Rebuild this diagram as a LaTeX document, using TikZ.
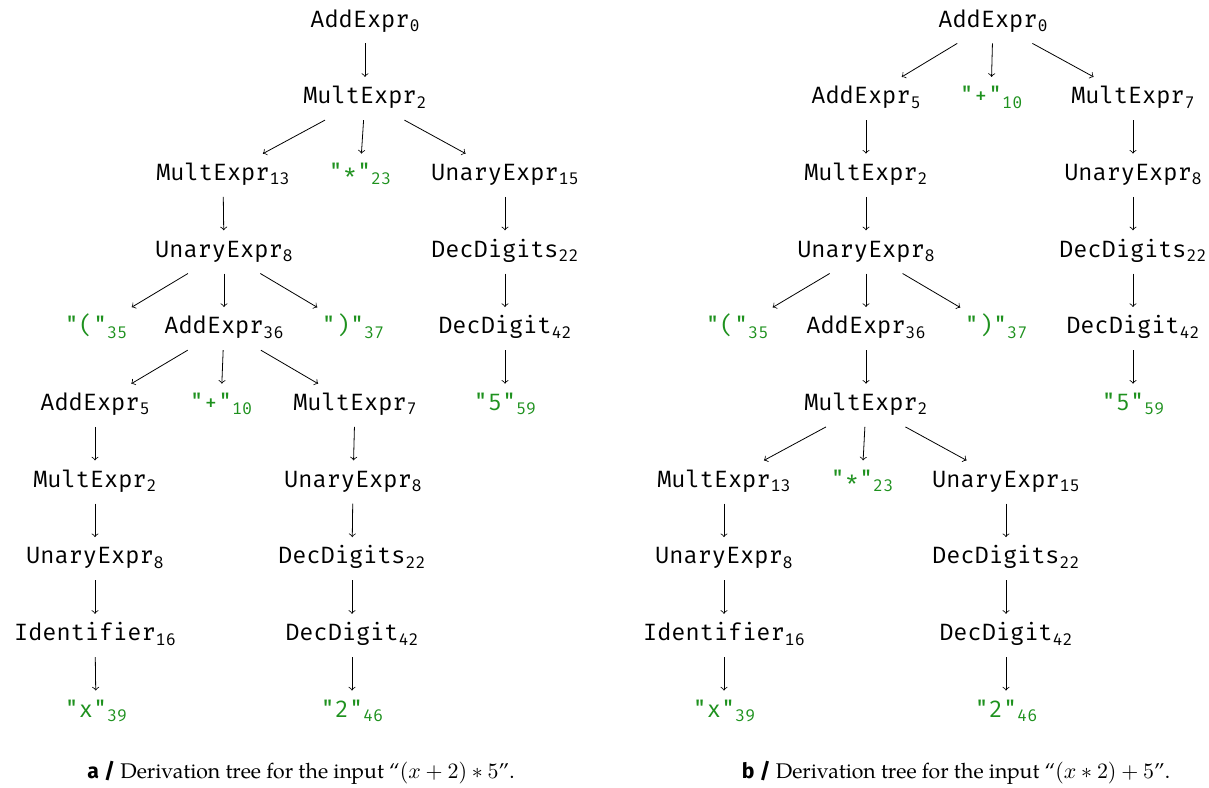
\documentclass[tikz,border=0pt]{standalone}
\usepackage{fontspec}
\setmainfont{TeX Gyre Pagella}
\setsansfont{Fira Sans}
\setmonofont{Fira Mono}
\definecolor{termgreen}{RGB}{30,145,30}
% subscript index of a tree node
\newcommand\ix[1]{\raisebox{-2.2pt}{\fontsize{8.4}{10}\selectfont #1}}
\tikzset{
  nt/.style={anchor=base, inner xsep=2pt, inner ysep=5pt, text height=8.2pt, text depth=3pt,
             font=\fontsize{11.8}{14}\selectfont\ttfamily},
  tm/.style={nt, text=termgreen},
  edge/.style={->, thin},
  caption/.style={anchor=base, font=\fontsize{10.6}{12}\selectfont}
}
\begin{document}
\begin{tikzpicture}[x=0.5pt, y=-0.5pt]
\useasboundingbox (0,0) rectangle (1209,787);

% ---- tree a: (x + 2) * 5
\node[nt] (a0)  at (365,27)    {AddExpr\ix{0}};
\node[nt] (a1)  at (365,103.7) {MultExpr\ix{2}};
\node[nt] (a2)  at (223,180.4) {MultExpr\ix{13}};
\node[tm] (a3)  at (360,180.4) {"*"\ix{23}};
\node[nt] (a4)  at (505,180.4) {UnaryExpr\ix{15}};
\node[nt] (a5)  at (224,257.1) {UnaryExpr\ix{8}};
\node[nt] (a6)  at (505,257.1) {DecDigits\ix{22}};
\node[tm] (a7)  at (96,333.8)  {"("\ix{35}};
\node[nt] (a8)  at (224,333.8) {AddExpr\ix{36}};
\node[tm] (a9)  at (353,333.8) {")"\ix{37}};
\node[nt] (a10) at (505,333.8) {DecDigit\ix{42}};
\node[nt] (a11) at (95,410.5)  {AddExpr\ix{5}};
\node[tm] (a12) at (221,410.5) {"+"\ix{10}};
\node[nt] (a13) at (355,410.5) {MultExpr\ix{7}};
\node[tm] (a14) at (505,410.5) {"5"\ix{59}};
\node[nt] (a15) at (95,487.2)  {MultExpr\ix{2}};
\node[nt] (a16) at (353,487.2) {UnaryExpr\ix{8}};
\node[nt] (a17) at (95,563.9)  {UnaryExpr\ix{8}};
\node[nt] (a18) at (352,563.9) {DecDigits\ix{22}};
\node[nt] (a19) at (95,640.6)  {Identifier\ix{16}};
\node[nt] (a20) at (352,640.6) {DecDigit\ix{42}};
\node[tm] (a21) at (96,717.3)  {"x"\ix{39}};
\node[tm] (a22) at (352,717.3) {"2"\ix{46}};

\foreach \p/\c in {a0/a1, a1/a2, a1/a3, a1/a4, a2/a5, a4/a6, a5/a7, a5/a8, a5/a9,
                   a6/a10, a8/a11, a8/a12, a8/a13, a10/a14, a11/a15, a13/a16,
                   a15/a17, a16/a18, a17/a19, a18/a20, a19/a21, a20/a22}
  \draw[edge] (\p) -- (\c);

\node[caption] (capa) at (301,778)
  {{\sffamily\bfseries a /} Derivation tree for the input ``$(x+2)\ast 5$''.};

% ---- tree b: (x * 2) + 5
\node[nt] (b0)  at (993,27)     {AddExpr\ix{0}};
\node[nt] (b1)  at (866,103.7)  {AddExpr\ix{5}};
\node[tm] (b2)  at (991,103.7)  {"+"\ix{10}};
\node[nt] (b3)  at (1133,103.7) {MultExpr\ix{7}};
\node[nt] (b4)  at (866,180.4)  {MultExpr\ix{2}};
\node[nt] (b5)  at (1133,180.4) {UnaryExpr\ix{8}};
\node[nt] (b6)  at (866,257.1)  {UnaryExpr\ix{8}};
\node[nt] (b7)  at (1133,257.1) {DecDigits\ix{22}};
\node[tm] (b8)  at (737,333.8)  {"("\ix{35}};
\node[nt] (b9)  at (866,333.8)  {AddExpr\ix{36}};
\node[tm] (b10) at (996,333.8)  {")"\ix{37}};
\node[nt] (b11) at (1133,333.8) {DecDigit\ix{42}};
\node[nt] (b12) at (866,410.5)  {MultExpr\ix{2}};
\node[tm] (b13) at (1133,410.5) {"5"\ix{59}};
\node[nt] (b14) at (724,487.2)  {MultExpr\ix{13}};
\node[tm] (b15) at (862,487.2)  {"*"\ix{23}};
\node[nt] (b16) at (1006,487.2) {UnaryExpr\ix{15}};
\node[nt] (b17) at (724,563.9)  {UnaryExpr\ix{8}};
\node[nt] (b18) at (1006,563.9) {DecDigits\ix{22}};
\node[nt] (b19) at (724,640.6)  {Identifier\ix{16}};
\node[nt] (b20) at (1006,640.6) {DecDigit\ix{42}};
\node[tm] (b21) at (724,717.3)  {"x"\ix{39}};
\node[tm] (b22) at (1006,717.3) {"2"\ix{46}};

\foreach \p/\c in {b0/b1, b0/b2, b0/b3, b1/b4, b3/b5, b4/b6, b5/b7, b6/b8, b6/b9,
                   b6/b10, b7/b11, b9/b12, b11/b13, b12/b14, b12/b15, b12/b16,
                   b14/b17, b16/b18, b17/b19, b18/b20, b19/b21, b20/b22}
  \draw[edge] (\p) -- (\c);

\node[caption] (capb) at (956,778)
  {{\sffamily\bfseries b /} Derivation tree for the input ``$(x\ast 2)+5$''.};
\end{tikzpicture}
\end{document}
